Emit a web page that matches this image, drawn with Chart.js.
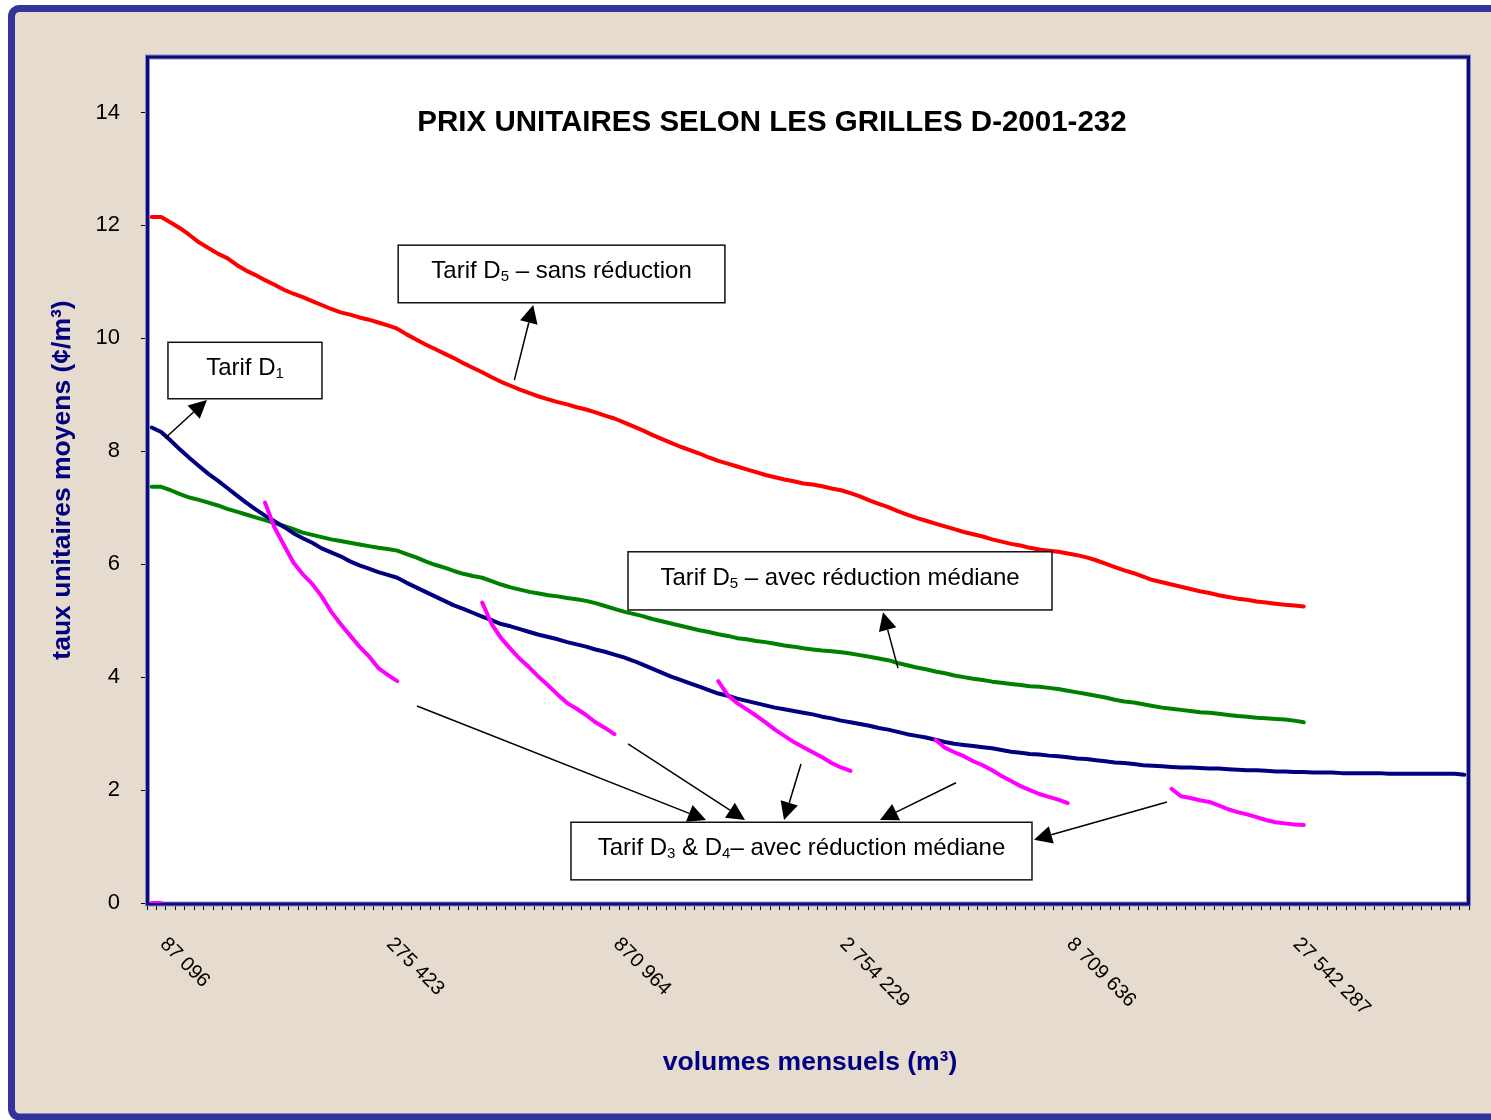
<!DOCTYPE html>
<html>
<head>
<meta charset="utf-8">
<script src="https://cdn.jsdelivr.net/npm/chart.js@4.4.1/dist/chart.umd.min.js"></script>
<style>
  body { margin: 0; background: #fff; }
  canvas { display: block; }
</style>
</head>
<body>
<canvas id="prixChart" width="1491" height="1120"></canvas>
<script>
// Volumes mensuels: 140 categories on a log scale, one label every 24 categories
const volumeLabels = ["87 096", "275 423", "870 964", "2 754 229", "8 709 636", "27 542 287"];
const labelIndex = [1, 25, 49, 73, 97, 121];
const categoryCount = 140;
const yTicks = [0, 2, 4, 6, 8, 10, 12, 14];

// Tarif D5 - sans réduction (red)
const tarifD5 = [
  12.15, 12.15, 12.05, 11.95, 11.83, 11.7, 11.6, 11.5, 11.42, 11.3,
  11.2, 11.12, 11.03, 10.95, 10.86, 10.79, 10.73, 10.66, 10.59, 10.52,
  10.46, 10.42, 10.37, 10.33, 10.28, 10.23, 10.17, 10.07, 9.98, 9.89,
  9.81, 9.73, 9.65, 9.56, 9.48, 9.4, 9.31, 9.23, 9.16, 9.09,
  9.03, 8.97, 8.92, 8.87, 8.83, 8.78, 8.74, 8.69, 8.63, 8.58,
  8.51, 8.44, 8.37, 8.29, 8.22, 8.15, 8.08, 8.02, 7.96, 7.89,
  7.83, 7.78, 7.73, 7.68, 7.63, 7.58, 7.54, 7.5, 7.47, 7.43,
  7.41, 7.38, 7.34, 7.31, 7.26, 7.2, 7.13, 7.07, 7.01, 6.94,
  6.88, 6.82, 6.77, 6.72, 6.67, 6.62, 6.57, 6.53, 6.49, 6.44,
  6.4, 6.36, 6.33, 6.29, 6.26, 6.24, 6.22, 6.19, 6.16, 6.12,
  6.07, 6.01, 5.95, 5.89, 5.84, 5.78, 5.72, 5.68, 5.64, 5.6,
  5.56, 5.52, 5.49, 5.45, 5.42, 5.39, 5.37, 5.34, 5.32, 5.3,
  5.28, 5.27, 5.25
];

// Tarif D5 - avec réduction médiane (green)
const tarifD5Mediane = [
  7.37, 7.37, 7.31, 7.24, 7.18, 7.14, 7.09, 7.04, 6.98, 6.93,
  6.88, 6.83, 6.78, 6.73, 6.68, 6.62, 6.56, 6.52, 6.48, 6.44,
  6.41, 6.38, 6.35, 6.32, 6.29, 6.27, 6.24, 6.18, 6.12, 6.05,
  5.99, 5.94, 5.88, 5.83, 5.79, 5.76, 5.7, 5.64, 5.59, 5.55,
  5.51, 5.48, 5.45, 5.43, 5.4, 5.38, 5.35, 5.31, 5.26, 5.21,
  5.16, 5.12, 5.08, 5.03, 4.99, 4.95, 4.91, 4.87, 4.83, 4.8,
  4.76, 4.73, 4.69, 4.67, 4.64, 4.62, 4.59, 4.56, 4.54, 4.51,
  4.49, 4.47, 4.46, 4.44, 4.42, 4.39, 4.36, 4.33, 4.3, 4.25,
  4.21, 4.17, 4.14, 4.1, 4.07, 4.03, 4.0, 3.97, 3.95, 3.92,
  3.9, 3.88, 3.86, 3.84, 3.83, 3.81, 3.79, 3.76, 3.73, 3.7,
  3.67, 3.64, 3.6, 3.57, 3.55, 3.52, 3.49, 3.46, 3.44, 3.42,
  3.4, 3.38, 3.37, 3.35, 3.33, 3.31, 3.3, 3.28, 3.27, 3.26,
  3.25, 3.23, 3.2
];

// Tarif D1 (navy)
const tarifD1 = [
  8.42, 8.34, 8.19, 8.03, 7.88, 7.74, 7.6, 7.48, 7.35, 7.22,
  7.09, 6.97, 6.86, 6.76, 6.66, 6.55, 6.46, 6.38, 6.28, 6.21,
  6.14, 6.05, 5.98, 5.92, 5.86, 5.81, 5.76, 5.67, 5.59, 5.51,
  5.43, 5.35, 5.27, 5.21, 5.14, 5.07, 5.01, 4.94, 4.9, 4.85,
  4.8, 4.75, 4.71, 4.67, 4.62, 4.58, 4.54, 4.49, 4.45, 4.4,
  4.35, 4.29, 4.22, 4.15, 4.08, 4.01, 3.95, 3.89, 3.83, 3.77,
  3.71, 3.67, 3.62, 3.58, 3.54, 3.5, 3.46, 3.43, 3.4, 3.37,
  3.34, 3.3, 3.27, 3.23, 3.2, 3.17, 3.14, 3.1, 3.07, 3.03,
  2.99, 2.96, 2.93, 2.89, 2.85, 2.82, 2.8, 2.78, 2.76, 2.74,
  2.71, 2.68, 2.66, 2.64, 2.63, 2.61, 2.6, 2.58, 2.56, 2.55,
  2.53, 2.51, 2.49, 2.48, 2.46, 2.44, 2.43, 2.42, 2.41, 2.4,
  2.4, 2.39, 2.38, 2.38, 2.37, 2.36, 2.35, 2.35, 2.34, 2.33,
  2.33, 2.32, 2.32, 2.31, 2.31, 2.31, 2.3, 2.3, 2.3, 2.3,
  2.3, 2.29, 2.29, 2.29, 2.29, 2.29, 2.29, 2.29, 2.29, 2.27
];

// Tarif D3 & D4 - avec réduction médiane (magenta, one piece per tranche)
const tarifD3D4 = [
  0, 0, null, null, null, null, null, null, null, null, null, null,
  7.09, 6.65, 6.34, 6.03, 5.82, 5.65, 5.43, 5.16, 4.94, 4.74, 4.54, 4.37, 4.16, 4.04, 3.93,
  null, null, null, null, null, null, null, null,
  5.32, 4.94, 4.69, 4.5, 4.32, 4.17, 4.0, 3.85, 3.69, 3.54, 3.44, 3.33, 3.2, 3.1, 2.99,
  null, null, null, null, null, null, null, null, null, null,
  3.93, 3.68, 3.54, 3.43, 3.32, 3.2, 3.07, 2.96, 2.85, 2.76, 2.67, 2.58, 2.48, 2.4, 2.34,
  null, null, null, null, null, null, null, null,
  2.89, 2.75, 2.67, 2.6, 2.51, 2.44, 2.35, 2.25, 2.16, 2.07, 2.0, 1.93, 1.88, 1.83, 1.77,
  null, null, null, null, null, null, null, null, null, null,
  2.02, 1.89, 1.86, 1.82, 1.79, 1.73, 1.66, 1.61, 1.57, 1.52, 1.47, 1.43, 1.41, 1.39, 1.38
];

const categories = [];
for (let i = 0; i < categoryCount; i++) {
  const k = labelIndex.indexOf(i);
  categories.push(k >= 0 ? volumeLabels[k] : "");
}

const FONT = 'Arial, "Liberation Sans", sans-serif';
const NAVY = "#000080";

// callout boxes and arrows, in (category index, value) units
const callouts = [
  { parts: [["Tarif D"], ["5", 1], [" – sans réduction"]],
    box: [26.1, 11.65, 60.7, 10.63], arrows: [[38.4, 9.26, 40.4, 10.59]] },
  { parts: [["Tarif D"], ["1", 1]],
    box: [1.72, 9.93, 18.03, 8.93], arrows: [[1.41, 8.23, 5.85, 8.91]] },
  { parts: [["Tarif D"], ["5", 1], [" – avec réduction médiane"]],
    box: [50.44, 6.22, 95.34, 5.19], arrows: [[79.03, 4.16, 77.44, 5.15]] },
  { parts: [["Tarif D"], ["3", 1], [" & D"], ["4", 1], ["– avec réduction médiane"]],
    box: [44.4, 1.43, 93.22, 0.41],
    arrows: [[28.09, 3.49, 58.7, 1.47], [50.44, 2.82, 62.83, 1.47], [68.76, 2.46, 66.96, 1.47],
             [85.17, 2.13, 77.12, 1.47], [107.52, 1.79, 93.43, 1.12]] }
];

function drawRich(ctx, parts, cx, baseline) {
  const big = "24px " + FONT, small = "15px " + FONT;
  let w = 0;
  parts.forEach(p => { ctx.font = p[1] ? small : big; w += ctx.measureText(p[0]).width; });
  let x = cx - w / 2;
  ctx.textAlign = "left";
  ctx.textBaseline = "alphabetic";
  parts.forEach(p => {
    ctx.font = p[1] ? small : big;
    ctx.fillText(p[0], x, p[1] ? baseline + 3 : baseline);
    x += ctx.measureText(p[0]).width;
  });
}

function drawArrow(ctx, x1, y1, x2, y2) {
  const ang = Math.atan2(y2 - y1, x2 - x1), L = 18, W = 9;
  const bx = x2 - L * Math.cos(ang), by = y2 - L * Math.sin(ang);
  ctx.beginPath();
  ctx.moveTo(x1, y1);
  ctx.lineTo(bx, by);
  ctx.stroke();
  ctx.beginPath();
  ctx.moveTo(x2, y2);
  ctx.lineTo(bx + W * Math.sin(ang), by - W * Math.cos(ang));
  ctx.lineTo(bx - W * Math.sin(ang), by + W * Math.cos(ang));
  ctx.closePath();
  ctx.fill();
}

const decor = {
  id: "decor",
  beforeDraw(chart) {
    const ctx = chart.ctx, a = chart.chartArea;
    ctx.save();
    ctx.fillStyle = "#fff";
    ctx.fillRect(0, 0, chart.width, chart.height);
    ctx.beginPath();
    ctx.roundRect(11.5, 8.5, 1500, 1108.5, 8);
    ctx.fillStyle = "#e5dccf";
    ctx.fill();
    ctx.lineWidth = 7;
    ctx.strokeStyle = "#333399";
    ctx.stroke();
    ctx.fillStyle = "#fff";
    ctx.fillRect(a.left, a.top, a.right - a.left, a.bottom - a.top);
    ctx.restore();
  },
  beforeDatasetsDraw(chart) {
    const ctx = chart.ctx, a = chart.chartArea;
    ctx.save();
    ctx.lineWidth = 5;
    ctx.strokeStyle = "#8c8cc4";
    ctx.strokeRect(a.left + 0.5, a.top + 1, a.right - a.left - 1, a.bottom - a.top);
    ctx.lineWidth = 3;
    ctx.strokeStyle = "#0b0b7a";
    ctx.strokeRect(a.left + 0.5, a.top + 1, a.right - a.left - 1, a.bottom - a.top);
    ctx.restore();
  },
  afterDraw(chart) {
    const ctx = chart.ctx, a = chart.chartArea;
    const xs = chart.scales.x, ys = chart.scales.y;
    ctx.save();

    // title
    ctx.fillStyle = "#000";
    ctx.font = "bold 29.5px " + FONT;
    ctx.textAlign = "center";
    ctx.textBaseline = "alphabetic";
    ctx.fillText("PRIX UNITAIRES SELON LES GRILLES D-2001-232", 772, 131);

    // x tick labels, rotated downwards
    ctx.font = "20px " + FONT;
    ctx.textAlign = "left";
    ctx.textBaseline = "top";
    labelIndex.forEach((idx, k) => {
      ctx.save();
      ctx.translate(xs.getPixelForValue(idx) + 9, a.bottom + 31);
      ctx.rotate(Math.PI / 4);
      ctx.fillText(volumeLabels[k], 0, 0);
      ctx.restore();
    });

    // axis titles
    ctx.fillStyle = NAVY;
    ctx.font = "bold 26.5px " + FONT;
    ctx.textAlign = "center";
    ctx.textBaseline = "middle";
    ctx.fillText("volumes mensuels (m³)", 810, 1063);
    ctx.save();
    ctx.translate(63, 480);
    ctx.rotate(-Math.PI / 2);
    ctx.fillText("taux unitaires moyens (¢/m³)", 0, 0);
    ctx.restore();

    // callouts
    ctx.fillStyle = "#000";
    ctx.strokeStyle = "#000";
    ctx.lineWidth = 1.5;
    callouts.forEach(c => {
      c.arrows.forEach(ar => {
        drawArrow(ctx, xs.getPixelForValue(ar[0]), ys.getPixelForValue(ar[1]),
                  xs.getPixelForValue(ar[2]), ys.getPixelForValue(ar[3]));
      });
    });
    callouts.forEach(c => {
      const x0 = xs.getPixelForValue(c.box[0]), y0 = ys.getPixelForValue(c.box[1]);
      const x1 = xs.getPixelForValue(c.box[2]), y1 = ys.getPixelForValue(c.box[3]);
      ctx.fillStyle = "#fff";
      ctx.fillRect(x0, y0, x1 - x0, y1 - y0);
      ctx.strokeStyle = "#111";
      ctx.strokeRect(x0, y0, x1 - x0, y1 - y0);
      ctx.fillStyle = "#000";
      drawRich(ctx, c.parts, (x0 + x1) / 2, (y0 + y1) / 2 + 4);
    });
    ctx.restore();
  }
};

const line = (data, color) => ({
  data, borderColor: color, backgroundColor: color, borderWidth: 4,
  pointRadius: 0, tension: 0, spanGaps: false, fill: false,
  borderCapStyle: "round", borderJoinStyle: "round"
});

new Chart(document.getElementById("prixChart"), {
  type: "line",
  data: {
    labels: categories,
    datasets: [
      line(tarifD3D4, "#ff00ff"),
      line(tarifD5, "#ff0000"),
      line(tarifD1, "#000080"),
      line(tarifD5Mediane, "#008000")
    ]
  },
  options: {
    responsive: false,
    animation: false,
    layout: { padding: { top: 56, right: 22, left: 0, bottom: 0 } },
    plugins: { legend: { display: false }, tooltip: { enabled: false } },
    scales: {
      x: {
        type: "category",
        offset: true,
        border: { display: false },
        grid: { display: true, offset: true, drawOnChartArea: false, drawTicks: true,
                tickLength: 7, color: "#000", tickColor: "#000" },
        ticks: { display: false, autoSkip: false },
        afterFit(s) { s.height = 217; }
      },
      y: {
        min: 0,
        max: 15,
        border: { display: false },
        grid: { drawOnChartArea: false, tickLength: 6, color: "#000", tickColor: "#000" },
        afterBuildTicks(s) { s.ticks = yTicks.map(v => ({ value: v })); },
        ticks: { color: "#000", padding: 21, font: { family: FONT, size: 22 } },
        afterFit(s) { s.width = 147; }
      }
    }
  },
  plugins: [decor]
});
</script>
</body>
</html>
